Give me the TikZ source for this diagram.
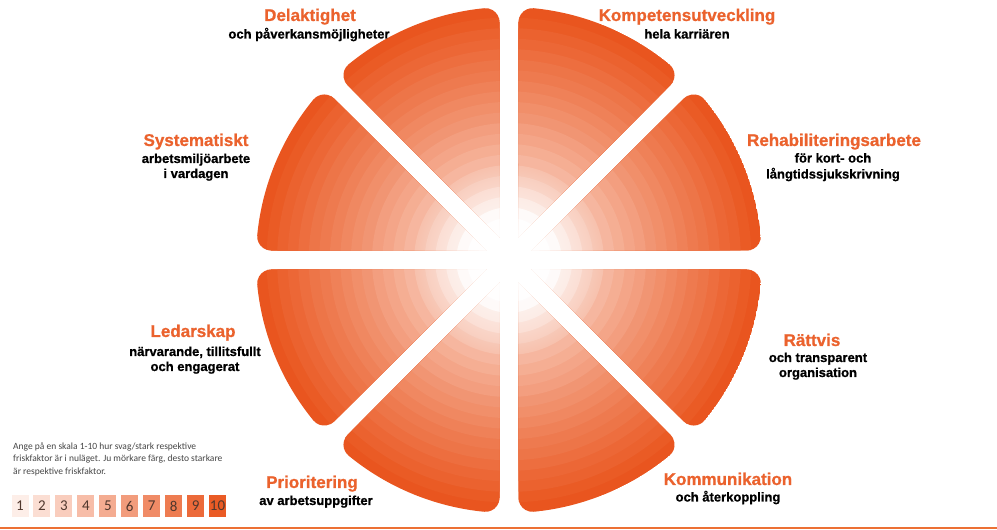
\documentclass[tikz,border=0pt]{standalone}
\usepackage{fontspec}
\setmainfont{Liberation Sans}
\newfontfamily\legendfont{Carlito}
\newfontfamily\heavyfont[FakeBold=0.8]{Liberation Sans Bold}
\usetikzlibrary{calc,fadings}
\definecolor{secor}{RGB}{233,82,26}
\definecolor{titleor}{RGB}{235,98,45}
\definecolor{legtext}{RGB}{70,70,70}
\definecolor{numtext}{RGB}{80,55,45}
\definecolor{lineor}{RGB}{236,112,52}
\tikzfading[name=glowfade, inner color=transparent!0, outer color=transparent!100]
\begin{document}
\begin{tikzpicture}[x=1pt,y=1pt,
  ttl/.style={font=\heavyfont\fontsize{17}{20}\selectfont, text=titleor, anchor=base, inner sep=0pt},
  sub/.style={font=\heavyfont\fontsize{13}{15}\selectfont, text=black, anchor=base, inner sep=0pt},
  legline/.style={font=\legendfont\fontsize{9.5}{11}\selectfont, text=legtext, anchor=base west, inner sep=0pt},
  legbox/.style={minimum width=17pt, minimum height=22pt, inner sep=0pt, font=\legendfont\fontsize{15}{15}\selectfont, text=numtext}]
\useasboundingbox (0,0) rectangle (997,530);
\fill[white] (0,0) rectangle (997,530);
\coordinate (C) at (509,270);
\def\R{253}\def\g{9.5}\def\rh{14}
\pgfmathsetmacro\ph{asin((\g+\rh)/(\R-\rh))}
\pgfmathsetmacro\cx{(\R-\rh)*cos(\ph)}
\pgfmathsetmacro\inr{\g/sin(22.5)}
\foreach \a in {0,45,...,315}{
  \begin{scope}
   \clip (C) ++(\a+22.5:\inr) -- ($(C)+(\a:\cx)+(\a+90:\g)$)
     arc[start angle=\a-90, end angle=\a+\ph, radius=\rh]
     arc[start angle=\a+\ph, end angle=\a+45-\ph, radius=\R]
     arc[start angle=\a+45-\ph, end angle=\a+135, radius=\rh] -- cycle;
   \foreach \k in {24,23,...,1}{
     \pgfmathsetmacro\rr{\R*\k/24}
     \pgfmathsetmacro\tq{max(0.001,(\rr-5-45)/(\R-45))}
     \pgfmathtruncatemacro\pq{min(100,100*\tq^0.65)}
     \fill[secor!\pq!white] (C) circle[radius=\rr];
   }
  \end{scope}
}
\fill[white, path fading=glowfade] (C) circle[radius=95];
% labels
\node[ttl] (t1) at (310,509) {Delaktighet};
\node[sub] (s1) at (309,491.5) {och påverkansmöjligheter};
\node[ttl] (t2) at (687,509) {Kompetensutveckling};
\node[sub] (s2) at (687,491.5) {hela karriären};
\node[ttl] (t3) at (196,384) {Systematiskt};
\node[sub] (s3a) at (196,367) {arbetsmiljöarbete};
\node[sub] (s3b) at (196,352) {i vardagen};
\node[ttl] (t4) at (834,384) {Rehabiliteringsarbete};
\node[sub] (s4a) at (833,367.5) {för kort- och};
\node[sub] (s4b) at (833,351.5) {långtidssjukskrivning};
\node[ttl] (t5) at (193,193) {Ledarskap};
\node[sub] (s5a) at (195,174) {närvarande, tillitsfullt};
\node[sub] (s5b) at (195,159) {och engagerat};
\node[ttl] (t6) at (812,184) {Rättvis};
\node[sub] (s6a) at (818,168) {och transparent};
\node[sub] (s6b) at (818,153) {organisation};
\node[ttl] (t7) at (728,45) {Kommunikation};
\node[sub] (s7) at (728,28.5) {och återkoppling};
\node[ttl] (t8) at (312,42) {Prioritering};
\node[sub] (s8) at (316,25) {av arbetsuppgifter};
% legend
\node[legline] (l1) at (13,80) {Ange på en skala 1-10 hur svag/stark respektive};
\node[legline] (l2) at (13,68) {friskfaktor är i nuläget. Ju mörkare färg, desto starkare};
\node[legline] (l3) at (13,55.5) {är respektive friskfaktor.};
\foreach \k in {1,...,10}{
  \pgfmathtruncatemacro\bp{10+9.5*(\k-1)}
  \node[legbox, fill=secor!\bp!white] (b\k) at ({20+21.95*(\k-1)},24) {\k};
}
\coordinate (la) at (0,2);
\coordinate (lb) at (997,2);
\draw[lineor, line width=2.5pt] (la) -- (lb);
\end{tikzpicture}
\end{document}
